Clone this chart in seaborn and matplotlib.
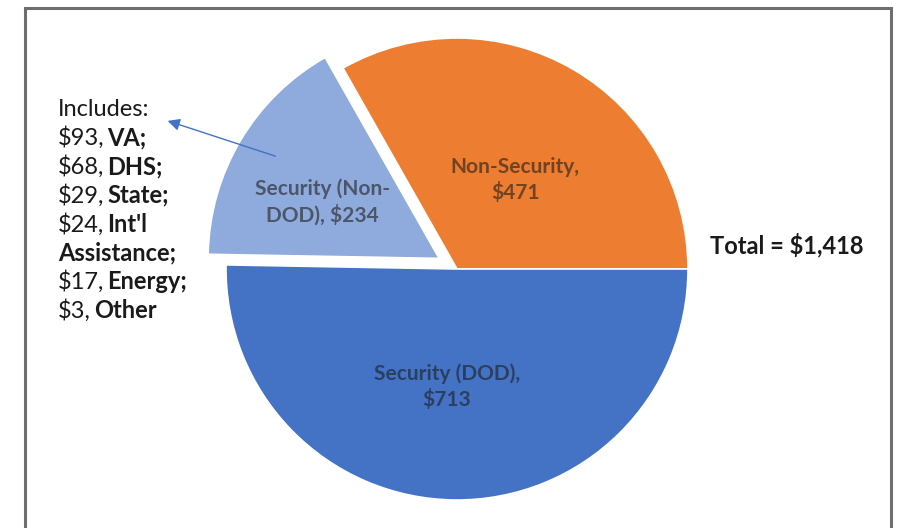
import numpy as np
import matplotlib
matplotlib.use("Agg")
import matplotlib.pyplot as plt
from matplotlib.patches import Rectangle
import seaborn as sns

# Spending by category, $ billions
categories = ["Non-Security", "Security (Non-DOD)", "Security (DOD)"]
amounts = [471, 234, 713]
slice_labels = ["Non-Security,\n$471", "Security (Non-\nDOD), $234", "Security (DOD),\n$713"]
slice_colors = ["#ED7D31", "#8FAADC", "#4472C4"]
explode_frac = [0.0, 0.09, 0.0]
label_dist = [0.46, 0.56, 0.51]
label_turn = [-3.0, 5.0, -4.5]

# Breakdown of the non-DOD security slice
detail_amounts = ["$93,", "$68,", "$29,", "$24,", "", "$17,", "$3,"]
detail_names = ["VA;", "DHS;", "State;", "Int'l", "Assistance;", "Energy;", "Other"]
total_label = "Total = $1,418"

sns.set_theme(style="white")
plt.rcParams["font.family"] = ["Lato", "DejaVu Sans"]

W, H = 900, 528
fig = plt.figure(figsize=(W / 100, H / 100), dpi=100)
ax = fig.add_axes([0, 0, 1, 1])

cx, cy, r = 457, H - 269, 231
wedges, _ = ax.pie(
    amounts,
    colors=slice_colors,
    explode=[f * r for f in explode_frac],
    startangle=0,
    counterclock=True,
    center=(cx, cy),
    radius=r,
    wedgeprops=dict(edgecolor="white", linewidth=1.2),
    frame=True,
)
ax.set_xlim(0, W)
ax.set_ylim(0, H)
ax.set_aspect("equal")
ax.axis("off")

for w, lab, d, turn in zip(wedges, slice_labels, label_dist, label_turn):
    mid = np.deg2rad((w.theta1 + w.theta2) / 2 + turn)
    wx, wy = w.center
    ax.text(wx + d * r * np.cos(mid), wy + d * r * np.sin(mid), lab,
            ha="center", va="center", fontsize=15, fontweight="bold",
            color="#1a1a1a", alpha=0.58, linespacing=1.3)

# Breakdown list with the arrow pointing from the light-blue slice
fs = 17
ink = "#1a1a1a"
line_h = 28.8
y0 = H - 109
ax.text(58, y0, "Includes:", fontsize=fs, color=ink, va="center")
for i, (amt, name) in enumerate(zip(detail_amounts, detail_names)):
    y = y0 - (i + 1) * line_h
    if amt:
        t = ax.text(58, y, amt, fontsize=fs, color=ink, va="center")
        ax.annotate(name, xy=(1, 0), xycoords=t, xytext=(2, 0),
                    textcoords="offset points", va="bottom", ha="left",
                    fontsize=fs, fontweight="bold", color=ink)
    else:
        ax.text(58, y, name, fontsize=fs, fontweight="bold", color=ink, va="center")

ax.annotate("", xy=(165, H - 120), xytext=(278, H - 157),
            arrowprops=dict(arrowstyle="-|>,head_length=0.6,head_width=0.3",
                            color="#4472C4", lw=1.0))

ax.text(710, H - 245, total_label, fontsize=fs, fontweight="bold",
        color=ink, va="center", ha="left")

ax.add_patch(Rectangle((25, -10), 866, H - 8 + 10, fill=False,
                       edgecolor="#6e6e6e", linewidth=2.2, zorder=5))

fig.savefig("out.png", dpi=100, facecolor="white")
